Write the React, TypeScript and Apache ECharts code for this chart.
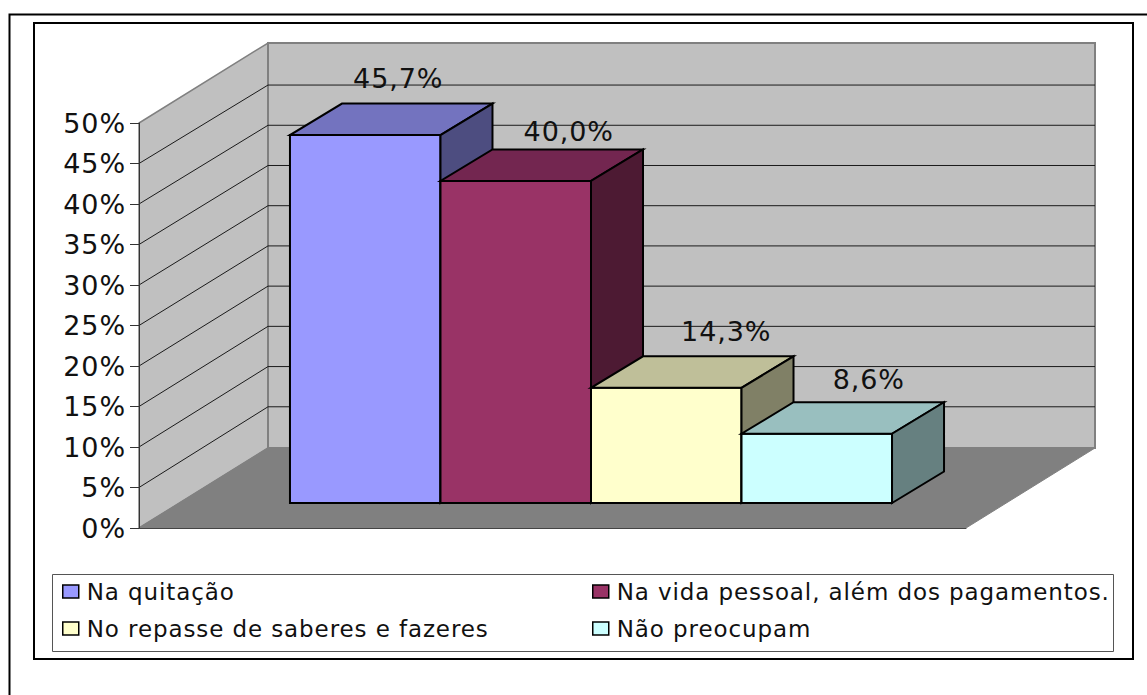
import React, { useEffect, useRef } from "react";
import * as echarts from "echarts";

const SERIES_NAMES = [
  "Na quitação",
  "Na vida pessoal, além dos pagamentos.",
  "No repasse de saberes e fazeres",
  "Não preocupam",
];
const SERIES_VALUES = [45.7, 40.0, 14.3, 8.6];
const DATA_LABELS = ["45,7%", "40,0%", "14,3%", "8,6%"];
const AXIS_TICKS = [0, 5, 10, 15, 20, 25, 30, 35, 40, 45, 50];

// styles and layout
const FRONT = ["#9999FF", "#993366", "#FFFFCC", "#CCFFFF"];
const TOP = ["#7373BF", "#732650", "#BFBF99", "#99BFBF"];
const SIDE = ["#4D4D80", "#4D1A33", "#808066", "#668080"];
const FONT = "'DejaVu Sans'";
const WALL_DX = 129;
const WALL_DY = -80;
const BACK_SCALE = 0.993;
const BASE_DX = 38.5;
const BASE_DY = -25;
const BAR_DX = 52;
const BAR_DY = -31.5;
const BAR_BAND = 0.182;
const BAR_SCALE = 0.994;
const LABEL_OFFSETS = [
  [33, -57],
  [53, -49],
  [60, -56],
  [52, -54],
];
const LEGEND_POS = [
  [62, 580],
  [592, 580],
  [62, 617],
  [592, 617],
];

const poly = (points: number[][], fill: string, stroke: string, lineWidth: number) => ({
  type: "polygon",
  shape: { points },
  style: { fill, stroke, lineWidth, lineJoin: "miter" },
});

function App() {
  const ref = useRef<HTMLDivElement>(null);
  useEffect(() => {
    const chart = echarts.init(ref.current!, null, { renderer: "svg" });

    const wallSeries = {
      type: "custom",
      silent: true,
      z: 1,
      data: [[0, 0, 50]],
      encode: { x: 0, y: 1 },
      renderItem: (_p: any, api: any) => {
        const [cx, y0] = api.coord([0, api.value(1)]);
        const [, y1] = api.coord([0, api.value(2)]);
        const w = api.size([1, 0])[0];
        const xl = cx - w / 2;
        const xr = cx + w / 2;
        return {
          type: "group",
          children: [
            poly(
              [[xl, y0], [xl, y1], [xl + WALL_DX, y1 + WALL_DY], [xl + WALL_DX, y0 + WALL_DY]],
              "#C0C0C0", "#808080", 1.5
            ),
            poly(
              [[xl + WALL_DX, y1 + WALL_DY], [xr + WALL_DX, y1 + WALL_DY], [xr + WALL_DX, y0 + WALL_DY], [xl + WALL_DX, y0 + WALL_DY]],
              "#C0C0C0", "#808080", 2
            ),
            poly(
              [[xl, y0], [xr, y0], [xr + WALL_DX, y0 + WALL_DY], [xl + WALL_DX, y0 + WALL_DY]],
              "#808080", "#808080", 1
            ),
          ],
        };
      },
    };

    const gridSeries = {
      type: "custom",
      silent: true,
      z: 2,
      data: AXIS_TICKS.filter((t) => t > 0 && t < 50).map((t) => [0, t]),
      encode: { x: 0, y: 1 },
      renderItem: (_p: any, api: any) => {
        const [cx, y] = api.coord([0, api.value(1)]);
        const [, yZero] = api.coord([0, 0]);
        const w = api.size([1, 0])[0];
        const xl = cx - w / 2;
        const xr = cx + w / 2;
        const yBack = yZero + WALL_DY - 1 - (yZero - y) * BACK_SCALE;
        return {
          type: "polyline",
          shape: {
            points: [[xl, y], [xl + WALL_DX, yBack], [xr + WALL_DX, yBack]],
          },
          style: { fill: "none", stroke: "#1a1a1a", lineWidth: 1 },
        };
      },
    };

    const barSeries = SERIES_NAMES.map((name, i) => ({
      type: "custom",
      name,
      silent: true,
      z: 3 + i,
      itemStyle: { color: FRONT[i] },
      data: [[0, SERIES_VALUES[i]]],
      encode: { x: 0, y: 1 },
      renderItem: (_p: any, api: any) => {
        const [cx, yZero] = api.coord([0, 0]);
        const [, yVal] = api.coord([0, api.value(1)]);
        const bw = api.size([1, 0])[0] * BAR_BAND;
        const x0 = cx + BASE_DX + (i - 2) * bw;
        const x1 = x0 + bw;
        const yb = yZero + BASE_DY;
        const yt = yb - (yZero - yVal) * BAR_SCALE;
        return {
          type: "group",
          children: [
            poly([[x0, yb], [x1, yb], [x1, yt], [x0, yt]], FRONT[i], "#000", 2),
            poly([[x0, yt], [x1, yt], [x1 + BAR_DX, yt + BAR_DY], [x0 + BAR_DX, yt + BAR_DY]], TOP[i], "#000", 2),
            poly([[x1, yb], [x1 + BAR_DX, yb + BAR_DY], [x1 + BAR_DX, yt + BAR_DY], [x1, yt]], SIDE[i], "#000", 2),
            {
              type: "text",
              z2: 100,
              style: {
                text: DATA_LABELS[i],
                x: (x0 + x1) / 2 + LABEL_OFFSETS[i][0],
                y: yt + LABEL_OFFSETS[i][1],
                fill: "#111",
                fontFamily: FONT,
                fontSize: 27,
                align: "center",
                verticalAlign: "middle",
              },
            },
          ],
        };
      },
    }));

    chart.setOption({
      animation: false,
      backgroundColor: "#fff",
      grid: { left: 139, top: 123, width: 827, height: 405 },
      xAxis: {
        type: "category",
        data: [""],
        z: 10,
        axisTick: { show: false },
        axisLabel: { show: false },
        axisLine: { lineStyle: { color: "#444", width: 1 } },
        splitLine: { show: false },
      },
      yAxis: {
        type: "value",
        min: 0,
        max: 50,
        interval: 5,
        z: 10,
        axisLine: { show: true, lineStyle: { color: "#333", width: 1 } },
        axisTick: { show: true, length: 9, lineStyle: { color: "#333", width: 1 } },
        splitLine: { show: false },
        axisLabel: {
          formatter: "{value}%",
          color: "#111",
          fontFamily: FONT,
          fontSize: 27,
          margin: 13,
          padding: [3, 0, 0, 0],
        },
      },
      legend: SERIES_NAMES.map((name, i) => ({
        left: LEGEND_POS[i][0],
        top: LEGEND_POS[i][1],
        padding: 0,
        itemWidth: 16,
        itemHeight: 13,
        itemGap: 0,
        selectedMode: false,
        textStyle: { color: "#111", fontFamily: FONT, fontSize: 23, padding: [0, 0, 0, 3] },
        data: [
          {
            name,
            icon: "rect",
            itemStyle: { color: FRONT[i], borderColor: "#000", borderWidth: 1.5 },
          },
        ],
      })),
      graphic: [
        {
          type: "rect",
          silent: true,
          z: -1,
          shape: { x: 9.5, y: 14.5, width: 1300, height: 800 },
          style: { fill: "none", stroke: "#000", lineWidth: 2 },
        },
        {
          type: "rect",
          silent: true,
          z: -1,
          shape: { x: 34, y: 23, width: 1099, height: 636 },
          style: { fill: "none", stroke: "#000", lineWidth: 2 },
        },
        {
          type: "rect",
          silent: true,
          z: -1,
          shape: { x: 52.5, y: 574.5, width: 1061, height: 77 },
          style: { fill: "#fff", stroke: "#555", lineWidth: 1 },
        },
      ],
      series: [wallSeries, gridSeries, ...barSeries],
    });
    return () => chart.dispose();
  }, []);
  return (
    <div
      ref={ref}
      style={{ position: "absolute", left: 0, top: 0, width: 1147, height: 695, letterSpacing: "0.9px" }}
    />
  );
}

export default App;
